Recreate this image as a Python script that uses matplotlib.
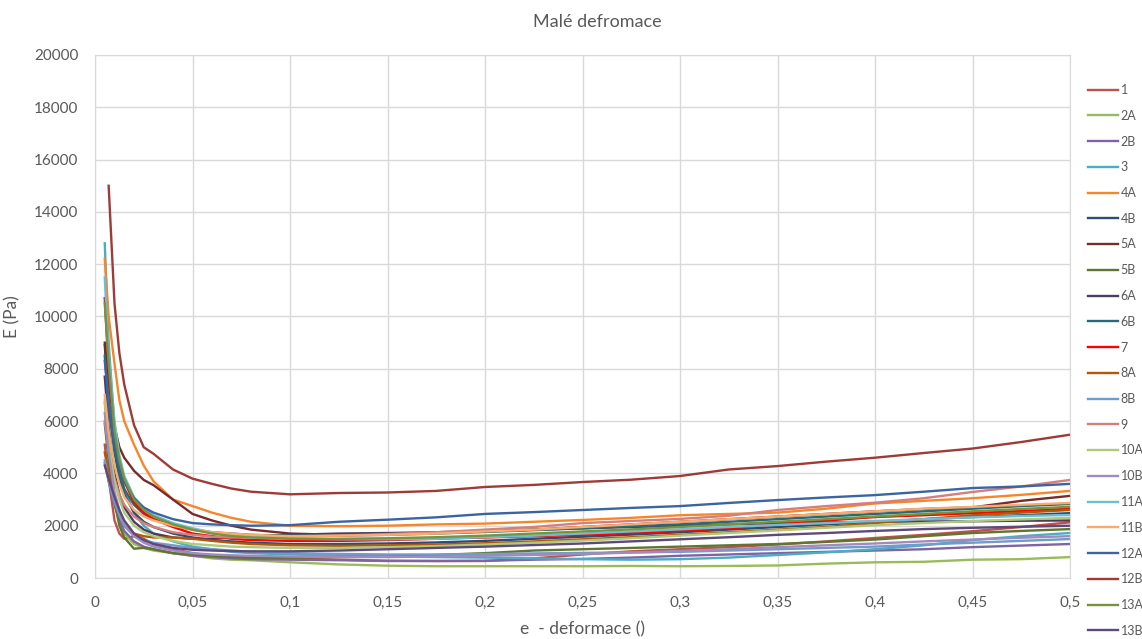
import numpy as np
import matplotlib
matplotlib.use('Agg')
import matplotlib.pyplot as plt

plt.rcParams['font.family'] = ['Lato', 'DejaVu Sans']

# strain samples shared by all specimens
strain = [0.005, 0.007, 0.01, 0.0125, 0.015, 0.02, 0.025, 0.03, 0.04, 0.05,
          0.06, 0.07, 0.08, 0.1, 0.125, 0.15, 0.175, 0.2, 0.225, 0.25,
          0.275, 0.3, 0.325, 0.35, 0.375, 0.4, 0.425, 0.45, 0.475, 0.5]

names = ['1', '2A', '2B', '3', '4A', '4B', '5A', '5B', '6A', '6B', '7',
         '8A', '8B', '9', '10A', '10B', '11A', '11B', '12A', '12B', '13A', '13B']

colors = ['#C0504D', '#9BBB59', '#8064A2', '#4BACC6', '#F7862A', '#2C4D75',
          '#772C2A', '#5F7530', '#4D3B62', '#276A7C', '#FF0000', '#B65708',
          '#729ACA', '#D47F7C', '#AFC97A', '#A08CBC', '#6FBDD1', '#F9AB6B',
          '#3B64A0', '#9E3B38', '#77933C', '#5F497A']

E_1 = [5100, 3800, 2200, 1700, 1500, 1600, 1500, 1300, 1100, 950, 850, 800, 780, 750, 700,
       660, 650, 650, 750, 900, 1020, 1100, 1180, 1280, 1400, 1530, 1650, 1790, 1950, 2130]
E_2A = [6700, 4800, 3000, 2200, 1700, 1300, 1150, 1050, 950, 850, 750, 700, 680, 600, 520,
        470, 450, 450, 450, 450, 460, 450, 460, 480, 550, 600, 620, 700, 720, 800]
E_2B = [4400, 3700, 2800, 2200, 1800, 1400, 1200, 1100, 950, 850, 800, 750, 720, 700, 680,
        650, 650, 660, 700, 730, 780, 850, 900, 950, 1000, 1050, 1100, 1180, 1240, 1300]
E_3 = [12800, 9000, 5800, 4300, 3400, 2500, 2000, 1700, 1400, 1200, 1100, 1000, 950, 900, 850,
       820, 800, 780, 750, 720, 700, 720, 780, 880, 980, 1100, 1250, 1450, 1600, 1720]
E_4A = [12200, 10000, 8200, 6800, 6000, 5100, 4300, 3700, 3000, 2750, 2500, 2300, 2150, 2000, 1980,
        2000, 2050, 2080, 2150, 2220, 2300, 2400, 2450, 2500, 2650, 2850, 2950, 3050, 3180, 3330]
E_4B = [8900, 6800, 4800, 3800, 3200, 2500, 2150, 1950, 1700, 1550, 1450, 1400, 1350, 1300, 1300,
        1320, 1360, 1420, 1500, 1580, 1660, 1750, 1850, 1950, 2050, 2150, 2250, 2330, 2400, 2480]
E_5A = [9000, 7500, 5800, 5000, 4600, 4100, 3750, 3550, 3000, 2450, 2200, 2000, 1850, 1700, 1650,
        1680, 1720, 1780, 1850, 1950, 2050, 2150, 2250, 2350, 2450, 2550, 2640, 2700, 2950, 3140]
E_5B = [5900, 4500, 2900, 2000, 1550, 1120, 1150, 1100, 950, 900, 850, 800, 780, 780, 800,
        820, 880, 950, 1050, 1100, 1150, 1200, 1250, 1300, 1380, 1470, 1600, 1720, 1800, 1870]
E_6A = [7700, 5800, 4000, 3200, 2700, 2150, 1850, 1700, 1550, 1500, 1500, 1550, 1600, 1650, 1700,
        1720, 1750, 1800, 1850, 1900, 1950, 2000, 2050, 2100, 2130, 2150, 2160, 2170, 2190, 2200]
E_6B = [8500, 6500, 4900, 4000, 3400, 2800, 2450, 2250, 2000, 1850, 1750, 1700, 1650, 1620, 1620,
        1650, 1700, 1760, 1830, 1900, 1980, 2050, 2150, 2250, 2350, 2450, 2550, 2650, 2750, 2830]
E_7 = [10700, 8000, 5500, 4400, 3700, 2900, 2500, 2250, 1950, 1700, 1600, 1500, 1450, 1420, 1420,
       1450, 1500, 1550, 1600, 1650, 1720, 1800, 1900, 2050, 2200, 2330, 2400, 2480, 2560, 2650]
E_8A = [4800, 4000, 3000, 2400, 2000, 1700, 1600, 1550, 1550, 1500, 1420, 1350, 1300, 1250, 1230,
        1250, 1280, 1330, 1400, 1480, 1560, 1650, 1750, 1850, 1950, 2100, 2250, 2400, 2500, 2600]
E_8B = [4500, 3700, 2900, 2400, 2000, 1600, 1450, 1350, 1250, 1150, 1100, 1050, 1000, 950, 920,
        900, 900, 920, 940, 960, 980, 1000, 1050, 1100, 1150, 1200, 1280, 1350, 1420, 1490]
E_9 = [6000, 4900, 3800, 3200, 2800, 2350, 2100, 1950, 1750, 1650, 1580, 1550, 1550, 1580, 1620,
       1680, 1750, 1850, 1950, 2100, 2180, 2260, 2380, 2600, 2750, 2880, 3050, 3290, 3500, 3750]
E_10A = [6800, 5200, 3700, 3000, 2500, 2000, 1750, 1600, 1420, 1300, 1250, 1200, 1180, 1150, 1150,
         1180, 1220, 1280, 1350, 1430, 1520, 1620, 1720, 1820, 1920, 2020, 2100, 2180, 2240, 2300]
E_10B = [6300, 4800, 3300, 2600, 2100, 1600, 1350, 1200, 1050, 950, 900, 870, 850, 820, 800,
         800, 820, 850, 880, 920, 970, 1030, 1100, 1180, 1250, 1320, 1400, 1470, 1540, 1600]
E_11A = [11500, 8500, 6000, 4700, 3900, 3100, 2650, 2400, 2100, 1900, 1750, 1650, 1580, 1500, 1480,
         1480, 1500, 1560, 1620, 1700, 1780, 1860, 1950, 2030, 2100, 2180, 2250, 2320, 2370, 2410]
E_11B = [7000, 5600, 4300, 3600, 3100, 2600, 2350, 2200, 2000, 1850, 1750, 1700, 1650, 1600, 1620,
         1650, 1700, 1780, 1850, 1950, 2050, 2150, 2250, 2350, 2450, 2550, 2650, 2720, 2800, 2870]
E_12A = [8300, 6800, 5200, 4300, 3700, 3050, 2700, 2500, 2250, 2100, 2050, 2020, 2000, 2020, 2150,
         2230, 2320, 2450, 2520, 2600, 2680, 2750, 2870, 2980, 3080, 3170, 3300, 3440, 3500, 3600]
E_12B = [np.nan, 15000, 10500, 8600, 7400, 5850, 5000, 4750, 4150, 3800, 3600, 3420, 3300, 3200, 3250,
         3270, 3330, 3480, 3560, 3670, 3760, 3900, 4150, 4280, 4450, 4600, 4780, 4950, 5200, 5480]
E_13A = [10500, 8200, 5600, 4500, 3800, 3000, 2600, 2350, 2050, 1850, 1700, 1600, 1550, 1500, 1500,
         1520, 1560, 1620, 1700, 1780, 1860, 1950, 2050, 2150, 2250, 2350, 2450, 2550, 2640, 2720]
E_13B = [4300, 3800, 3100, 2600, 2200, 1700, 1450, 1300, 1150, 1080, 1050, 1030, 1020, 1020, 1050,
         1100, 1150, 1200, 1260, 1320, 1400, 1480, 1560, 1650, 1720, 1800, 1870, 1920, 1960, 2000]

series = [E_1, E_2A, E_2B, E_3, E_4A, E_4B, E_5A, E_5B, E_6A, E_6B, E_7,
          E_8A, E_8B, E_9, E_10A, E_10B, E_11A, E_11B, E_12A, E_12B, E_13A, E_13B]

grey = '#595959'
grid_c = '#D9D9D9'

fig = plt.figure(figsize=(11.42, 6.39), dpi=100)
ax = fig.add_axes([95 / 1142, 61 / 639, 975 / 1142, 523 / 639])

for name, vals, c in zip(names, series, colors):
    ax.plot(strain, vals, color=c, lw=1.7, label=name)

ax.set_xlim(0, 0.5)
ax.set_ylim(0, 20000)
ax.set_xticks(np.arange(0, 0.51, 0.05))
ax.set_yticks(np.arange(0, 20001, 2000))
ax.set_xticklabels(['0'] + [('%g' % v).replace('.', ',') for v in np.arange(0.05, 0.51, 0.05)])
ax.grid(True, color=grid_c, lw=1)
ax.set_axisbelow(True)
for s in ax.spines.values():
    s.set_color(grid_c)
ax.tick_params(length=0, colors=grey, labelsize=11)
ax.tick_params(axis='x', pad=13)
ax.tick_params(axis='y', pad=12)

ax.set_xlabel('e  - deformace ()', color=grey, fontsize=12.5, labelpad=8)
ax.set_ylabel('E (Pa)', color=grey, fontsize=12.5, labelpad=10)
fig.text(597 / 1142, 1 - 22 / 639, 'Malé defromace', color=grey, fontsize=13,
         ha='center', va='center')

leg = ax.legend(loc='upper left', bbox_to_anchor=(1088 / 1142, 1 - 84 / 639),
                bbox_transform=fig.transFigure, frameon=False, fontsize=9,
                handlelength=2.4, handletextpad=0.2, labelspacing=1.1,
                borderaxespad=0, borderpad=0)
for t in leg.get_texts():
    t.set_color(grey)

fig.savefig('out.png', dpi=100)
